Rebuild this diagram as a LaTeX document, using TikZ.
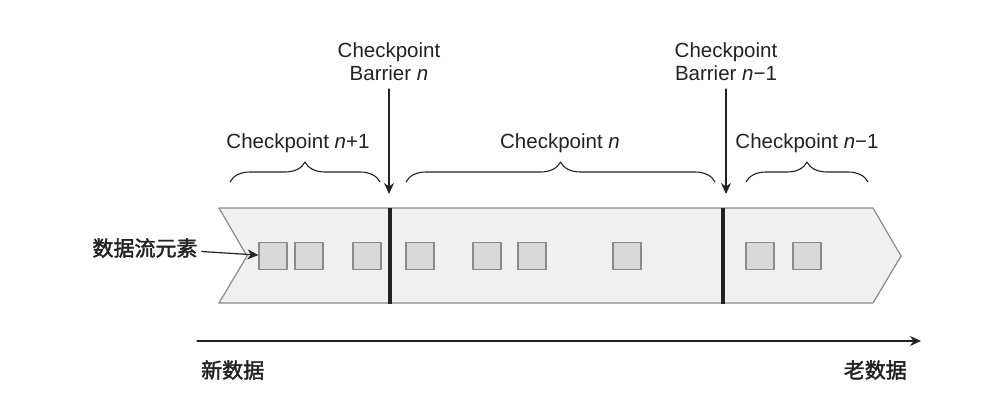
\documentclass[tikz,border=0pt]{standalone}
\usepackage{fontspec}
\setmainfont{Liberation Sans}
\newfontfamily\cjk[FakeBold=2]{Noto Sans CJK SC}
\usepackage{xcolor}
\usepackage{tikz}
\usetikzlibrary{arrows.meta,positioning,calc,decorations.pathreplacing}
\definecolor{bandfill}{HTML}{F0F0F0}
\definecolor{bandedge}{HTML}{8A8A8A}
\definecolor{elemfill}{HTML}{D9D9D9}
\definecolor{ink}{HTML}{222222}

\begin{document}
\begin{tikzpicture}[
			x=1pt,
			y=-1pt,
			line cap=round,
			line join=round,
			elem/.style={draw=bandedge,fill=elemfill,line width=1.2pt,minimum width=28pt,minimum height=27pt,inner sep=0pt},
			lbl/.style={font=\fontsize{20.5}{23.5}\selectfont,text=ink,align=center,inner sep=0pt},
			zhlbl/.style={font=\cjk\fontsize{21}{25}\selectfont,text=ink,inner sep=4pt},
			barrier/.style={line width=3.5pt,line cap=butt,draw=ink},
			pointer/.style={-{Stealth[length=11pt,width=10pt]},line width=1.2pt,draw=ink},
			grp/.style={decorate,decoration={brace,amplitude=20pt},line width=1.1pt,draw=ink}
			]
			
			\useasboundingbox (0,0) rectangle (998,404);
			
			%------------------------------
			% Data stream band
			%------------------------------
			\filldraw[fill=bandfill, draw=bandedge, line width=1.2pt]
				(219,208) -- (873,208) -- (901,256) -- (873,303) -- (219,303) -- (247,256) -- cycle;
			
			% Barriers in the stream
			\coordinate (bn) at (390,208);
			\coordinate (bm) at (723,208);
			\draw[barrier] (bn) -- ++(0,96);
			\draw[barrier] (bm) -- ++(0,96);
			
			% Stream elements
			\foreach \x [count=\k] in {273,309,367,420,487,532,627,760,807}{
				\node[elem] (e\k) at (\x,256) {};
			}
			
			%------------------------------
			% Barrier labels
			%------------------------------
			\node[lbl, anchor=north] (cbn) at (389,42) {Checkpoint\\Barrier \textit{n}};
			\coordinate (tipn) at (389,194);
			\draw[pointer] (cbn.south) ++(0,8) -- (tipn);
			
			\node[lbl, anchor=north] (cbm) at (726,42) {Checkpoint\\Barrier \textit{n}−1};
			\coordinate (tipm) at (726,194);
			\draw[pointer] (cbm.south) ++(0,8) -- (tipm);
			
			%------------------------------
			% Checkpoint ranges
			%------------------------------
			\coordinate (g1a) at (230,182);
			\coordinate (g1b) at (380,182);
			\coordinate (g2a) at (406,182);
			\coordinate (g2b) at (715,182);
			\coordinate (g3a) at (746,182);
			\coordinate (g3b) at (868,182);
			\draw[grp] (g1a) -- (g1b);
			\draw[grp] (g2a) -- (g2b);
			\draw[grp] (g3a) -- (g3b);
			
			\node[lbl, anchor=base] (cpnext) at (298,148) {Checkpoint \textit{n}+1};
			\node[lbl, anchor=base] (cpcur) at (560,148) {Checkpoint \textit{n}};
			\node[lbl, anchor=base] (cpprev) at (807,148) {Checkpoint \textit{n}−1};
			
			%------------------------------
			% Element label and time axis
			%------------------------------
			\node[zhlbl] (elabel) at (145,248) {数据流元素};
			\draw[pointer] (elabel) -- (e1);
			
			\coordinate (axl) at (197,341);
			\coordinate (axr) at (921,341);
			\draw[pointer] (axl) -- (axr);
			\node[zhlbl, anchor=west, inner sep=0pt] (newd) at (201,370) {新数据};
			\node[zhlbl, anchor=east, inner sep=0pt] (oldd) at (907,370) {老数据};
		\end{tikzpicture}
\end{document}
